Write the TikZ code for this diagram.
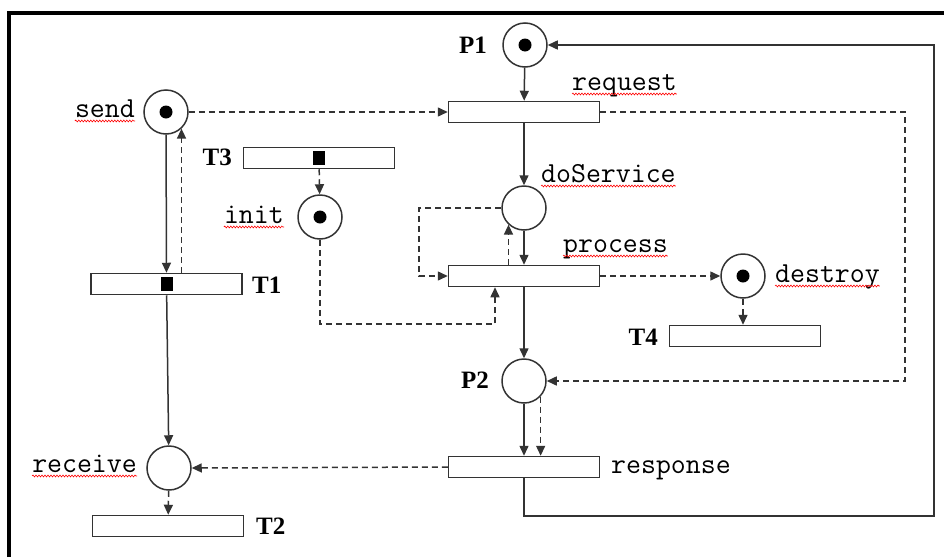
\documentclass[tikz,border=0pt]{standalone}
\usepackage{fontspec}
\setmainfont{Liberation Serif}
\usetikzlibrary{arrows.meta,decorations.pathmorphing}

\begin{document}
\begin{tikzpicture}[x=1pt, y=-1pt, > = {Triangle[length=10pt,width=9pt]},
    placenode/.style={circle, draw=black!80, line width=1.5pt, minimum size=44pt, inner sep=0pt},
    transnode/.style={rectangle, draw=black!80, line width=1.5pt, minimum width=151pt, minimum height=21pt, inner sep=0pt},
    token/.style={circle, fill=black, minimum size=13pt, inner sep=0pt},
    bar/.style={fill=black, minimum width=12pt, minimum height=14pt, inner sep=0pt},
    flow/.style={->, line width=1.5pt, draw=black!80},
    dflow/.style={flow, dash pattern=on 6pt off 4pt},
    tlbl/.style={font=\fontsize{25}{25}\selectfont\bfseries, inner sep=0pt},
    mlbl/.style={font=\fontsize{29}{29}\selectfont\ttfamily, inner sep=0pt},
    squiggle/.style={draw=red, line width=0.6pt, decorate, decoration={snake, segment length=3pt, amplitude=0.9pt}}]

    \useasboundingbox (0,0) rectangle (944,557);
    \draw[line width=3.5pt] (9,557) -- (9,13) -- (944,13);

    % places
    \node[placenode] (send) at (166,112) {};
    \node[placenode] (P1) at (525,45) {};
    \node[placenode] (init) at (320,217) {};
    \node[placenode] (doService) at (524,208) {};
    \node[placenode] (destroy) at (743,276) {};
    \node[placenode] (P2) at (524,381) {};
    \node[placenode] (receive) at (169,468) {};

    \node[token] (sendtok) at (send) {};
    \node[token] (P1tok) at (P1) {};
    \node[token] (inittok) at (init) {};
    \node[token] (destroytok) at (destroy) {};

    % transitions
    \node[transnode] (request) at (524,112) {};
    \node[transnode] (T3) at (319,158) {};
    \node[transnode] (process) at (524,276) {};
    \node[transnode] (T1) at (166.5,284) {};
    \node[transnode] (T4) at (745,336) {};
    \node[transnode] (response) at (524,467) {};
    \node[transnode] (T2) at (168,526) {};

    \node[bar] (T3bar) at (T3) {};
    \node[bar] (T1bar) at (T1) {};

    % labels
    \node[mlbl, anchor=base east] (sendlbl) at (135,117) {send};
    \node[mlbl, anchor=base east] (initlbl) at (284,223) {init};
    \node[mlbl, anchor=base west] (requestlbl) at (572,90) {request};
    \node[mlbl, anchor=base west] (doServicelbl) at (541,182) {doService};
    \node[mlbl, anchor=base west] (processlbl) at (563,252) {process};
    \node[mlbl, anchor=base west] (destroylbl) at (775,282) {destroy};
    \node[mlbl, anchor=base east] (receivelbl) at (137,472) {receive};
    \node[mlbl, anchor=base west] (responselbl) at (611,473) {response};

    \node[tlbl, anchor=base east] (P1lbl) at (487,53) {P1};
    \node[tlbl, anchor=base east] (T3lbl) at (232,165) {T3};
    \node[tlbl, anchor=base west] (T1lbl) at (252,293) {T1};
    \node[tlbl, anchor=base east] (T4lbl) at (658,345) {T4};
    \node[tlbl, anchor=base east] (P2lbl) at (489,388) {P2};
    \node[tlbl, anchor=base west] (T2lbl) at (256,534) {T2};

    \foreach \w in {sendlbl, initlbl, requestlbl, doServicelbl, processlbl, destroylbl, receivelbl}
        \draw[squiggle] ([yshift=-4pt]\w.base west) -- ([yshift=-4pt]\w.base east);

    % turning points
    \coordinate (loopW) at (419,0);
    \coordinate (initturn) at (495,324);
    \coordinate (rightA) at (905,0);
    \coordinate (fbk) at (934,516);

    % solid arcs
    \draw[flow] (P1) -- (request);
    \draw[flow] (request) -- (doService);
    \draw[flow] (doService) -- (process);
    \draw[flow] (process) -- (P2);
    \draw[flow] (P2) -- (response);
    \draw[flow] (send) -- (T1);
    \draw[flow] (T1) -- (receive);
    \draw[flow] (response.south) |- (fbk) |- (P1.east);

    % dashed arcs
    \draw[dflow] (send.east) -- (request.west);
    \draw[dflow] (send.-47 |- T1.north) -- (send.-47);
    \draw[dflow] (T3) -- (init);
    \draw[dflow] (init.south) |- (initturn) -- (initturn |- process.south);
    \draw[dflow] (doService.west) -| (loopW |- process) -- (process.west);
    \draw[dflow] (doService.-133 |- process.north) -- (doService.-133);
    \draw[dflow] (process.east) -- (destroy.west);
    \draw[dflow] (destroy.south) -- (destroy.south |- T4.north);
    \draw[dflow] (request.east) -- (request.east -| rightA) |- (P2.east);
    \draw[dflow] (P2.-43) -- (P2.-43 |- response.north);
    \draw[dflow] (response.west) -- (receive.east);
    \draw[dflow] (receive) -- (T2);
\end{tikzpicture}
\end{document}
